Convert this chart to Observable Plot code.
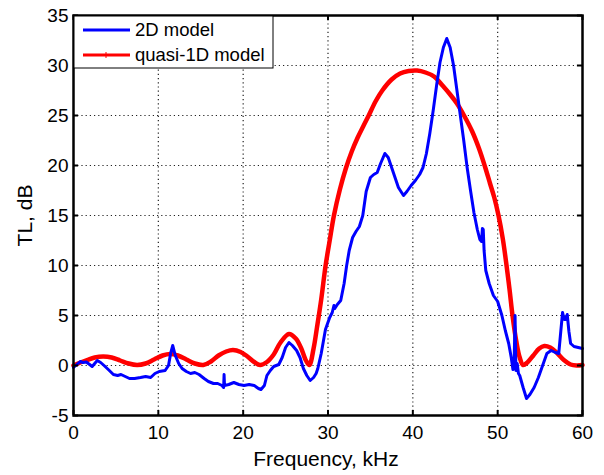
<!DOCTYPE html>
<html>
<head>
<meta charset="utf-8">
<script src="https://cdn.jsdelivr.net/npm/d3@7"></script>
<script src="https://cdn.jsdelivr.net/npm/@observablehq/plot@0.6"></script>
<style>
  html, body { margin: 0; padding: 0; background: white; }
</style>
</head>
<body>
<div id="chart"></div>
<script>
const xTicks = [0, 10, 20, 30, 40, 50, 60];
const yTicks = [-5, 0, 5, 10, 15, 20, 25, 30, 35];
const xLabel = "Frequency, kHz";
const yLabel = "TL, dB";
const seriesNames = ["2D model", "quasi-1D model"];

// 2D model (blue)
const blueFreq = [0, 0.4, 0.8, 1.1, 1.5, 1.9, 2.2, 2.5, 2.8, 3.2, 3.6, 4.1, 4.7, 5.2, 5.6, 6.1, 6.6, 7.2, 7.9, 8.5, 9.1, 9.6, 10.1, 10.8, 11.2, 11.45, 11.7, 12.0, 12.4, 12.8, 13.3, 13.8, 14.3, 14.8, 15.4, 15.9, 16.5, 17.0, 17.5, 17.7, 17.75, 17.8, 18.3, 18.9, 19.5, 20.1, 20.7, 21.3, 21.8, 22.1, 22.5, 22.8, 23.2, 23.6, 24.2, 24.6, 25.0, 25.4, 25.8, 26.3, 26.7, 27.1, 27.5, 27.9, 28.3, 28.6, 28.8, 29.2, 29.7, 30.2, 30.5, 30.7, 30.8, 31.1, 31.5, 31.9, 32.2, 32.5, 32.9, 33.3, 33.7, 34.1, 34.5, 35.0, 35.4, 35.8, 36.2, 36.7, 37.1, 37.5, 37.9, 38.3, 38.9, 39.3, 39.8, 40.3, 40.8, 41.2, 41.6, 42.0, 42.4, 42.8, 43.2, 43.6, 44.0, 44.4, 44.8, 45.2, 45.6, 46.0, 46.4, 46.8, 47.2, 47.6, 47.9, 48.1, 48.2, 48.3, 48.4, 48.6, 49.0, 49.5, 50.0, 50.5, 50.9, 51.3, 51.6, 51.8, 51.95, 52.05, 52.15, 52.3, 52.45, 52.6, 53.0, 53.4, 53.8, 54.3, 54.8, 55.3, 55.8, 56.3, 56.8, 57.2, 57.45, 57.65, 57.85, 58.0, 58.2, 58.4, 58.6, 59.0, 59.5, 60.0];
const blueTL = [-0.2, 0.1, 0.4, 0.3, 0.35, 0.1, -0.1, 0.2, 0.5, 0.3, 0.0, -0.4, -0.9, -1.0, -0.9, -1.1, -1.3, -1.3, -1.2, -1.1, -1.2, -0.8, -0.6, -0.5, 0.0, 1.2, 2.0, 1.0, 0.2, -0.3, -0.6, -0.8, -0.7, -0.9, -1.3, -1.6, -1.8, -1.8, -2.0, -2.2, -0.9, -2.0, -1.9, -1.7, -1.9, -2.0, -1.9, -2.0, -2.3, -2.4, -2.0, -1.0, -0.5, -0.1, 0.1, 0.8, 1.8, 2.3, 2.0, 1.5, 0.8, -0.3, -1.0, -1.5, -1.2, -0.8, -0.3, 1.2, 3.6, 4.8, 5.3, 6.0, 5.7, 6.1, 6.5, 8.2, 10.0, 11.5, 12.8, 13.4, 13.9, 15.0, 17.4, 18.8, 19.1, 19.3, 20.2, 21.2, 20.8, 19.8, 18.8, 17.8, 17.0, 17.4, 18.0, 18.5, 19.1, 19.8, 21.2, 23.2, 25.5, 28.0, 30.3, 31.8, 32.7, 31.8, 30.0, 27.5, 25.0, 22.5, 19.8, 17.5, 15.3, 13.6, 12.6, 12.4, 13.7, 13.6, 11.5, 9.5, 8.2, 7.0, 6.4, 5.0, 3.5, 2.2, 0.8, -0.4, 0.6, 5.0, -0.5, 0.2, -0.8, -1.0, -2.2, -3.3, -2.9, -2.2, -1.2, 0.0, 1.2, 1.5, 1.3, 1.2, 3.5, 5.3, 4.6, 4.6, 5.1, 3.4, 2.2, 1.9, 1.8, 1.7];

// quasi-1D model (red)
const redFreq = [0, 0.8, 1.6, 2.5, 3.5, 4.5, 5.5, 6.5, 7.5, 8.5, 9.5, 10.5, 11.4, 12.3, 13.3, 14.3, 15.3, 16.2, 17.1, 18.0, 18.8, 19.7, 20.5, 21.3, 22.0, 22.8, 23.6, 24.4, 25.4, 26.2, 26.8, 27.4, 27.8, 28.3, 28.7, 29.2, 29.7, 30.2, 30.7, 31.4, 32.1, 32.8, 33.5, 34.2, 34.8, 35.6, 36.4, 37.5, 38.5, 39.5, 40.5, 41.5, 42.5, 43.5, 44.4, 45.2, 46.1, 47.0, 47.8, 48.5, 49.1, 49.6, 50.1, 50.6, 51.0, 51.4, 51.75, 52.2, 52.6, 53.0, 53.5, 54.2, 54.9, 55.5, 56.2, 57.0, 57.8, 58.6, 59.3, 60.0];
const redTL = [0, 0.3, 0.55, 0.8, 0.9, 0.8, 0.5, 0.2, 0.05, 0.2, 0.6, 1.0, 1.15, 1.0, 0.6, 0.2, 0.05, 0.4, 1.0, 1.4, 1.55, 1.35, 0.9, 0.35, 0.05, 0.35, 1.1, 2.3, 3.15, 2.7, 1.8, 0.5, 0.05, 1.7, 3.8, 6.6, 9.9, 12.5, 15.0, 17.6, 19.7, 21.4, 22.8, 24.0, 25.0, 26.4, 27.5, 28.6, 29.2, 29.45, 29.5, 29.3, 28.9, 28.0, 27.1, 26.2, 24.9, 23.4, 21.7, 19.9, 18.2, 16.8, 15.0, 12.7, 10.3, 7.6, 5.0, 2.4, 0.8, 0.05, 0.3, 1.0, 1.7, 1.95, 1.8, 1.25, 0.55, 0.1, 0.0, 0.05];

const blue = blueFreq.map((f, i) => ({f, v: blueTL[i]}));
const red = redFreq.map((f, i) => ({f, v: redTL[i]}));

const xMin = xTicks[0], xMax = xTicks[xTicks.length - 1];
const yMin = yTicks[0], yMax = yTicks[yTicks.length - 1];
const xIn = 0.6, yIn = 0.5; // inward tick length in data units (~5px)

const chart = Plot.plot({
  width: 604,
  height: 475,
  marginLeft: 73,
  marginRight: 22,
  marginTop: 15,
  marginBottom: 60,
  style: {fontFamily: "'Liberation Sans', Arial, Helvetica, sans-serif", fontSize: "19px", background: "white", color: "black"},
  x: {domain: [xMin, xMax], ticks: xTicks, tickSize: 0, tickPadding: 10, tickFormat: d => String(d), label: null},
  y: {domain: [yMin, yMax], ticks: yTicks, tickSize: 0, tickPadding: 5, tickFormat: d => String(d), label: null},
  marks: [
    Plot.ruleX(xTicks.slice(1, -1), {stroke: "#222", strokeWidth: 1.2, strokeDasharray: "1.2,3"}),
    Plot.ruleY(yTicks.slice(1, -1), {stroke: "#222", strokeWidth: 1.2, strokeDasharray: "1.2,3"}),
    Plot.line(red, {x: "f", y: "v", stroke: "#ff0000", strokeWidth: 4.5, curve: "catmull-rom"}),
    Plot.line(blue, {x: "f", y: "v", stroke: "#0000ff", strokeWidth: 3, strokeLinejoin: "round"}),
    Plot.ruleX(xTicks, {x: d => d, y1: yMin, y2: yMin + yIn, stroke: "black", strokeWidth: 2}),
    Plot.ruleX(xTicks, {x: d => d, y1: yMax, y2: yMax - yIn, stroke: "black", strokeWidth: 2}),
    Plot.ruleY(yTicks, {y: d => d, x1: xMin, x2: xMin + xIn, stroke: "black", strokeWidth: 2}),
    Plot.ruleY(yTicks, {y: d => d, x1: xMax, x2: xMax - xIn, stroke: "black", strokeWidth: 2}),
    Plot.frame({stroke: "black", strokeWidth: 2.5}),
    Plot.text([xLabel], {frameAnchor: "bottom", dy: 44, dx: -2, textAnchor: "middle", lineAnchor: "middle", text: d => d, fontSize: 21, fill: "black"}),
    Plot.text([yLabel], {frameAnchor: "left", dx: -48, textAnchor: "middle", lineAnchor: "middle", rotate: -90, text: d => d, fontSize: 21, fill: "black"})
  ]
});

// legend
const svg = d3.select(chart);
const lg = svg.append("g").attr("text-anchor", "start");
lg.append("rect").attr("x", 74).attr("y", 16).attr("width", 199).attr("height", 52)
  .attr("fill", "white").attr("stroke", "black").attr("stroke-width", 1);
const colors = ["#0000ff", "#ff0000"];
const widths = [3, 3];
seriesNames.forEach((name, i) => {
  const yy = 30 + i * 25;
  lg.append("line").attr("x1", 83).attr("x2", 130).attr("y1", yy).attr("y2", yy)
    .attr("stroke", colors[i]).attr("stroke-width", widths[i]);
  if (i === 1) {
    lg.append("path").attr("d", `M106,${yy - 3}V${yy + 3}M103,${yy}H109`).attr("stroke", colors[i]).attr("stroke-width", 1);
  }
  lg.append("text").attr("x", 135).attr("y", yy).attr("dy", "0.35em")
    .attr("text-anchor", "start")
    .attr("font-size", 18.5).attr("fill", "black").text(name);
});

document.getElementById("chart").appendChild(chart);
</script>
</body>
</html>
